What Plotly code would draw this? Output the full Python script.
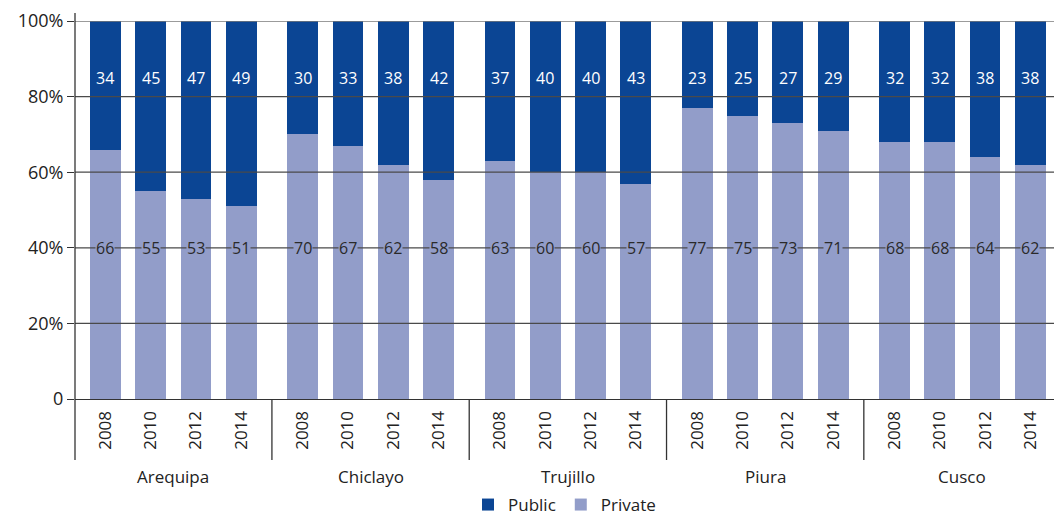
import plotly.graph_objects as go

cities = ["Arequipa", "Chiclayo", "Trujillo", "Piura", "Cusco"]
years = ["2008", "2010", "2012", "2014"]
public = [34, 45, 47, 49, 30, 33, 38, 42, 37, 40, 40, 43, 23, 25, 27, 29, 32, 32, 38, 38]
private = [66, 55, 53, 51, 70, 67, 62, 58, 63, 60, 60, 57, 77, 75, 73, 71, 68, 68, 64, 62]
y_ticks = [0, 20, 40, 60, 80, 100]
y_ticktext = ["0", "20%", "40%", "60%", "80%", "100%"]

C_PUB = "#0b4594"
C_PRI = "#929dc9"
FONT = "Open Sans"
GROUP_PITCH = 4.355
PLOT_H = 378  # px between 0 and 100%

xs = [g * GROUP_PITCH + i for g in range(len(cities)) for i in range(len(years))]
xlabels = [y for _ in cities for y in years]

fig = go.Figure()
fig.add_trace(go.Bar(x=xs, y=private, name="Private", marker_color=C_PRI,
                     marker_line_width=0, width=0.678, hoverinfo="y"))
fig.add_trace(go.Bar(x=xs, y=public, name="Public", marker_color=C_PUB,
                     marker_line_width=0, width=0.678, hoverinfo="y"))

shapes = []
for v in y_ticks[1:]:
    shapes.append(dict(type="line", xref="paper", yref="y", x0=0, x1=1, y0=v, y1=v,
                       line=dict(color="#4a4a4a" if v < 100 else "#7a7a7a", width=1.3),
                       layer="above"))
# y axis line extending above the top and below into the category area
xmin, xmax = -0.669, 20.94
shapes.append(dict(type="line", xref="paper", yref="paper", x0=0, x1=0,
                   y0=-61 / PLOT_H, y1=1 + 8 / PLOT_H,
                   line=dict(color="#333", width=1.3), layer="above"))
for g in range(1, len(cities)):
    xd = (g - 1) * GROUP_PITCH + 3 + (GROUP_PITCH - 3) / 2
    shapes.append(dict(type="line", xref="x", yref="paper", x0=xd, x1=xd,
                       y0=-61 / PLOT_H, y1=0,
                       line=dict(color="#333", width=1.3), layer="above"))

annotations = []
for x, pu, pr in zip(xs, public, private):
    annotations.append(dict(x=x, y=40, xref="x", yref="y", text=str(pr), showarrow=False,
                            font=dict(family=FONT, size=16, color="#2a2a2a"),
                            bgcolor=C_PRI, borderpad=0))
    annotations.append(dict(x=x, y=85, xref="x", yref="y", text=str(pu), showarrow=False,
                            font=dict(family=FONT, size=16, color="white")))
for g, c in enumerate(cities):
    annotations.append(dict(x=g * GROUP_PITCH + 1.5, y=-77 / PLOT_H, xref="x", yref="paper",
                            text=c, showarrow=False, yanchor="middle",
                            font=dict(family=FONT, size=17, color="#222")))

fig.update_layout(
    width=1054, height=520,
    margin=dict(l=75, r=0, t=21, b=121, autoexpand=False),
    barmode="stack",
    plot_bgcolor="white", paper_bgcolor="white",
    font=dict(family=FONT, size=17, color="#222"),
    shapes=shapes, annotations=annotations,
    legend=dict(orientation="h", x=0.5, xanchor="center",
                y=-106 / PLOT_H, yanchor="middle",
                traceorder="reversed", font=dict(family=FONT, size=17, color="#222"),
                itemwidth=30),
    xaxis=dict(range=[xmin, xmax], tickvals=xs, ticktext=xlabels, tickangle=-90,
               automargin=False, showgrid=False, zeroline=False,
               showline=True, linecolor="#333", linewidth=1.3,
               ticks="", ticklabelstandoff=4,
               tickfont=dict(family=FONT, size=17, color="#222")),
    yaxis=dict(range=[0, 100], tickvals=y_ticks, ticktext=y_ticktext,
               automargin=False, showgrid=False, zeroline=False, showline=False,
               ticks="outside", ticklen=7, tickcolor="#333", tickwidth=1.3,
               tickfont=dict(family=FONT, size=18, color="#222")),
)

fig.write_html("out.html")
